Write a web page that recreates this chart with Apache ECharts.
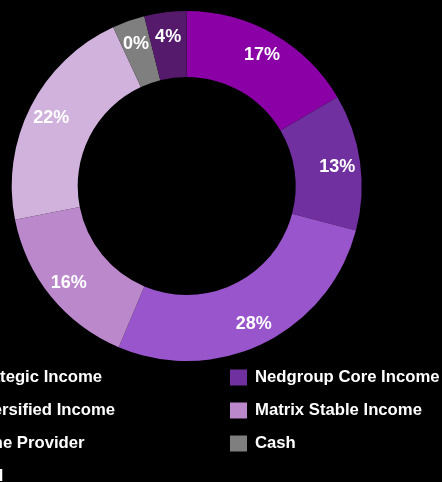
<!DOCTYPE html>
<html>
<head>
<meta charset="utf-8">
<style>
  html, body { margin: 0; padding: 0; background: #000; }
  #chart { width: 442px; height: 482px; }
</style>
<script src="https://cdn.jsdelivr.net/npm/echarts@6/dist/echarts.min.js"></script>
</head>
<body>
<div id="chart"></div>
<script>
// Data
var categories = [
  'Coronation Strategic Income',
  'Nedgroup Core Income',
  'Ninety One Diversified Income',
  'Matrix Stable Income',
  'Prescient Income Provider',
  'Cash',
  'Taquanta Global'
];
var values = [16.5, 12.6, 27.25, 15.55, 21.2, 3.0, 3.9];
var labels = ['17%', '13%', '28%', '16%', '22%', '0%', '4%'];
var colors = ['#8a00a6', '#7030a0', '#9955cc', '#bb88cc', '#d1b2dd', '#7f7f7f', '#551a6b'];
var legendLeftColumn = [categories[0], categories[2], categories[4], categories[6]];
var legendRightColumn = [categories[1], categories[3], categories[5]];

var font = '"Liberation Sans", Arial, sans-serif';

var mainData = categories.map(function (c, i) {
  return { name: c, value: values[i], itemStyle: { color: colors[i] } };
});
var labelData = categories.map(function (c, i) {
  return { name: c, value: values[i], label: { formatter: labels[i] } };
});

var chart = echarts.init(document.getElementById('chart'), null, { renderer: 'canvas' });
var legendCommon = {
  orient: 'vertical',
  top: 369,
  height: 200,
  itemWidth: 17,
  itemHeight: 16,
  itemGap: 16,
  icon: 'rect',
  padding: 0,
  selectedMode: false,
  textStyle: {
    color: '#ffffff',
    fontFamily: font,
    fontWeight: 'bold',
    fontSize: 16.7,
    lineHeight: 16,
    padding: [0, 0, 0, 3]
  }
};
chart.setOption({
  backgroundColor: '#000000',
  animation: false,
  legend: [
    Object.assign({}, legendCommon, { left: -151, data: legendLeftColumn }),
    Object.assign({}, legendCommon, { left: 230, data: legendRightColumn })
  ],
  series: [
    {
      type: 'pie',
      center: [186.7, 186],
      radius: [109, 175],
      startAngle: 90,
      clockwise: true,
      label: { show: false },
      labelLine: { show: false },
      emphasis: { disabled: true },
      itemStyle: { borderWidth: 0 },
      data: mainData
    },
    {
      type: 'pie',
      center: [186.7, 187.5],
      radius: [123, 175],
      startAngle: 90,
      clockwise: true,
      silent: true,
      emphasis: { disabled: true },
      itemStyle: { color: 'rgba(0,0,0,0)', borderWidth: 0 },
      labelLine: { show: false },
      label: {
        show: true,
        position: 'inside',
        color: '#ffffff',
        fontFamily: font,
        fontWeight: 'bold',
        fontSize: 18
      },
      data: labelData
    }
  ]
});
</script>
</body>
</html>
